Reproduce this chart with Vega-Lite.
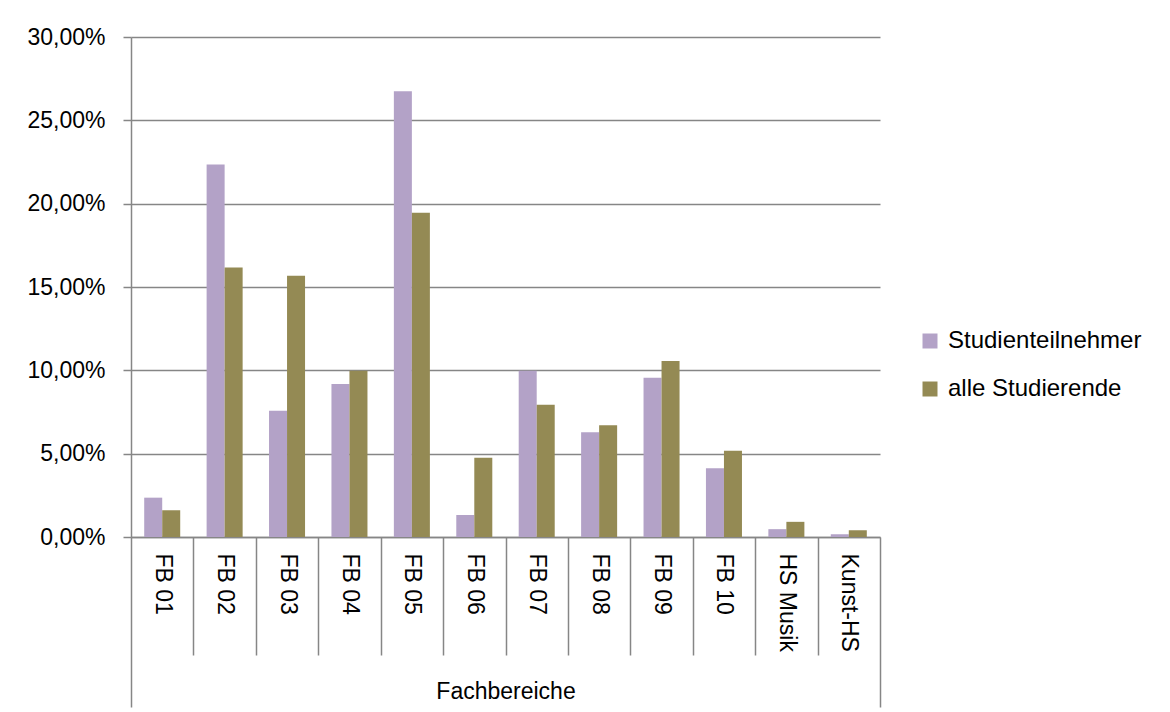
{
  "$schema": "https://vega.github.io/schema/vega-lite/v6.json",
  "width": 749,
  "height": 500,
  "autosize": "none",
  "padding": {"left": 131, "top": 37, "right": 290, "bottom": 175},
  "background": "white",
  "config": {
    "locale": {"number": {"decimal": ",", "thousands": ".", "grouping": [3], "currency": ["", " €"]}},
    "font": "Liberation Sans",
    "view": {"stroke": null}
  },
  "data": {
    "values": [
      {"Fachbereich": "FB 01", "Gruppe": "Studienteilnehmer", "Anteil": 0.0236},
      {"Fachbereich": "FB 01", "Gruppe": "alle Studierende", "Anteil": 0.0160},
      {"Fachbereich": "FB 02", "Gruppe": "Studienteilnehmer", "Anteil": 0.2235},
      {"Fachbereich": "FB 02", "Gruppe": "alle Studierende", "Anteil": 0.1617},
      {"Fachbereich": "FB 03", "Gruppe": "Studienteilnehmer", "Anteil": 0.0757},
      {"Fachbereich": "FB 03", "Gruppe": "alle Studierende", "Anteil": 0.1567},
      {"Fachbereich": "FB 04", "Gruppe": "Studienteilnehmer", "Anteil": 0.0918},
      {"Fachbereich": "FB 04", "Gruppe": "alle Studierende", "Anteil": 0.0998},
      {"Fachbereich": "FB 05", "Gruppe": "Studienteilnehmer", "Anteil": 0.2675},
      {"Fachbereich": "FB 05", "Gruppe": "alle Studierende", "Anteil": 0.1946},
      {"Fachbereich": "FB 06", "Gruppe": "Studienteilnehmer", "Anteil": 0.0132},
      {"Fachbereich": "FB 06", "Gruppe": "alle Studierende", "Anteil": 0.0476},
      {"Fachbereich": "FB 07", "Gruppe": "Studienteilnehmer", "Anteil": 0.0998},
      {"Fachbereich": "FB 07", "Gruppe": "alle Studierende", "Anteil": 0.0793},
      {"Fachbereich": "FB 08", "Gruppe": "Studienteilnehmer", "Anteil": 0.0629},
      {"Fachbereich": "FB 08", "Gruppe": "alle Studierende", "Anteil": 0.0671},
      {"Fachbereich": "FB 09", "Gruppe": "Studienteilnehmer", "Anteil": 0.0955},
      {"Fachbereich": "FB 09", "Gruppe": "alle Studierende", "Anteil": 0.1056},
      {"Fachbereich": "FB 10", "Gruppe": "Studienteilnehmer", "Anteil": 0.0412},
      {"Fachbereich": "FB 10", "Gruppe": "alle Studierende", "Anteil": 0.0517},
      {"Fachbereich": "HS Musik", "Gruppe": "Studienteilnehmer", "Anteil": 0.0047},
      {"Fachbereich": "HS Musik", "Gruppe": "alle Studierende", "Anteil": 0.0091},
      {"Fachbereich": "Kunst-HS", "Gruppe": "Studienteilnehmer", "Anteil": 0.0017},
      {"Fachbereich": "Kunst-HS", "Gruppe": "alle Studierende", "Anteil": 0.0041}
    ]
  },
  "mark": {"type": "bar"},
  "encoding": {
    "x": {
      "field": "Fachbereich",
      "type": "nominal",
      "sort": null,
      "scale": {"paddingInner": 0, "paddingOuter": 0},
      "axis": {
        "title": "Fachbereiche",
        "titleFontSize": 23,
        "titleFontWeight": "normal",
        "titleColor": "black",
        "titleFont": "Liberation Sans",
        "titleY": 161,
        "titleBaseline": "alphabetic",
        "labelAngle": 90,
        "labelFontSize": 23,
        "labelColor": "black",
        "labelFont": "Liberation Sans",
        "labelPadding": {"condition": {"test": "datum.index === 1", "value": -154}, "value": -102},
        "tickBand": "extent",
        "tickSize": {"condition": {"test": "datum.index === 1 || datum.extra", "value": 170}, "value": 118},
        "tickColor": "#868686",
        "tickWidth": 1.5,
        "domainColor": "#868686",
        "domainWidth": 1.5
      }
    },
    "xOffset": {
      "field": "Gruppe",
      "type": "nominal",
      "sort": ["Studienteilnehmer", "alle Studierende"],
      "scale": {"paddingInner": 0, "paddingOuter": 0.733}
    },
    "y": {
      "field": "Anteil",
      "type": "quantitative",
      "scale": {"domain": [0, 0.3], "nice": false},
      "axis": {
        "title": null,
        "format": ".2%",
        "values": [0, 0.05, 0.1, 0.15, 0.2, 0.25, 0.3],
        "grid": true,
        "gridColor": "#868686",
        "gridWidth": 1.5,
        "domainColor": "#868686",
        "domainWidth": 1.5,
        "tickColor": "#868686",
        "tickWidth": 1.5,
        "tickSize": 8,
        "labelFontSize": 23,
        "labelColor": "black",
        "labelFont": "Liberation Sans",
        "labelPadding": 18,
        "labelFlush": false
      }
    },
    "color": {
      "field": "Gruppe",
      "type": "nominal",
      "scale": {"domain": ["Studienteilnehmer", "alle Studierende"], "range": ["#B3A2C7", "#948A54"]},
      "legend": {
        "orient": "none",
        "legendX": 787,
        "legendY": 292,
        "title": null,
        "symbolType": "square",
        "symbolSize": 225,
        "symbolStrokeWidth": 0,
        "labelFontSize": 24,
        "labelColor": "black",
        "labelFont": "Liberation Sans",
        "labelOffset": 6,
        "rowPadding": 24,
        "labelLimit": 300
      }
    }
  }
}
